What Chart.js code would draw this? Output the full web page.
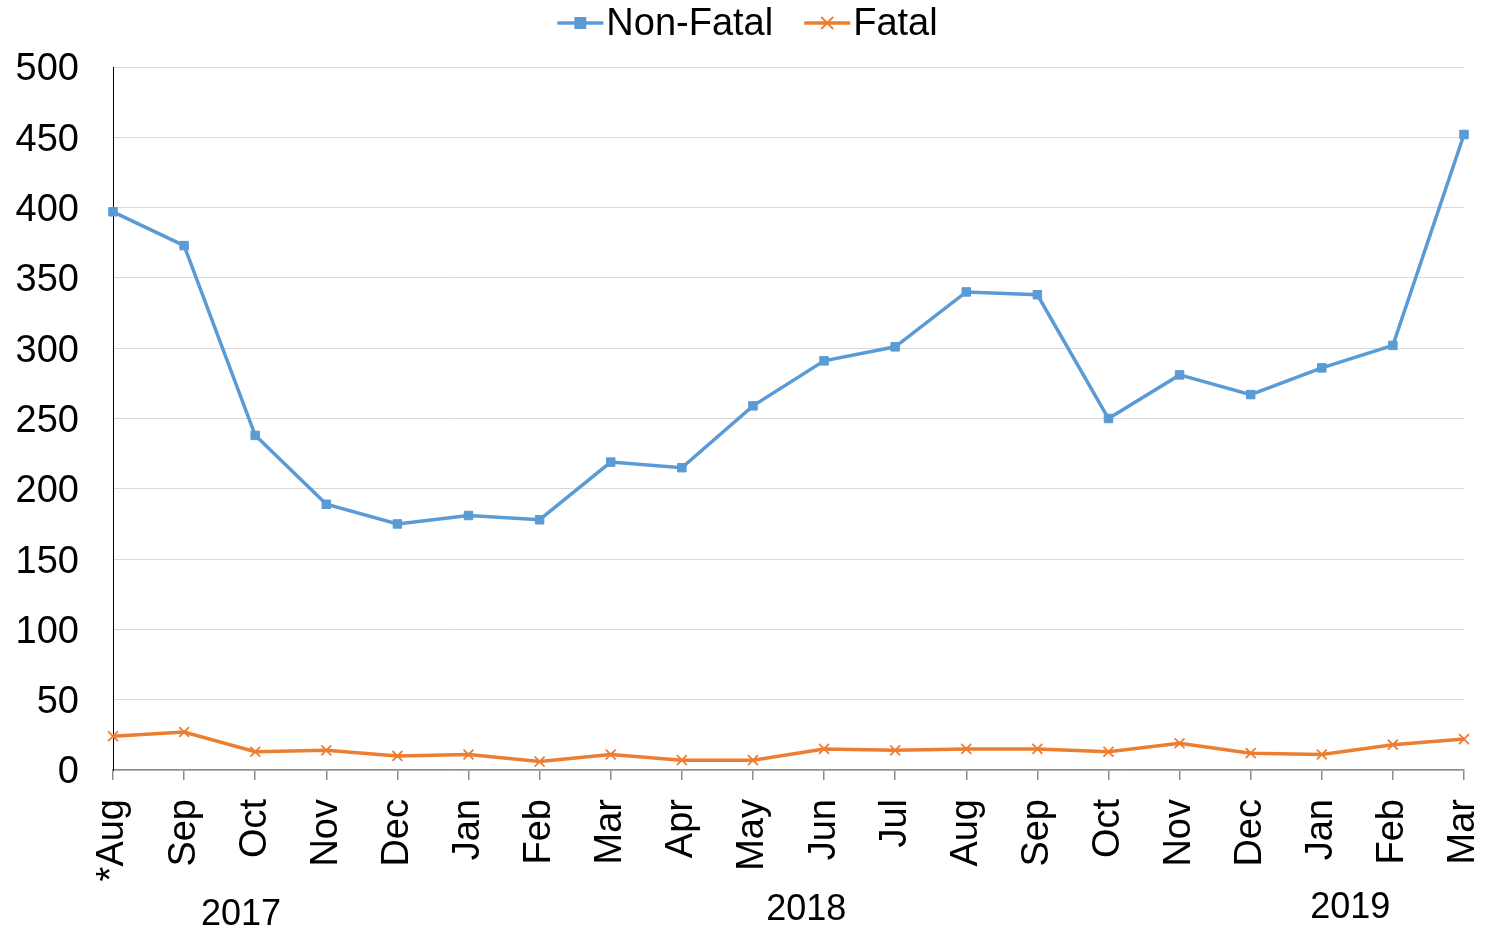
<!DOCTYPE html>
<html>
<head>
<meta charset="utf-8">
<script src="https://cdn.jsdelivr.net/npm/chart.js@4/dist/chart.umd.min.js"></script>
<style>
  html, body { margin: 0; padding: 0; background: #fff; }
  #wrap { width: 1491px; height: 927px; position: relative; }
</style>
</head>
<body>
<div id="wrap"><canvas id="c" width="1491" height="927"></canvas></div>
<script>
const categories = ['*Aug','Sep','Oct','Nov','Dec','Jan','Feb','Mar','Apr','May','Jun','Jul','Aug','Sep','Oct','Nov','Dec','Jan','Feb','Mar'];
const nonFatal = [397, 373, 238, 189, 175, 181, 178, 219, 215, 259, 291, 301, 340, 338, 250, 281, 267, 286, 302, 452];
const fatal = [24, 27, 13, 14, 10, 11, 6, 11, 7, 7, 15, 14, 15, 15, 13, 19, 12, 11, 18, 22];
const yearLabels = ['2017', '2018', '2019'];
const yTicks = [0, 50, 100, 150, 200, 250, 300, 350, 400, 450, 500];

const BLUE = '#5B9BD5';
const ORANGE = '#ED7D31';
const FONT = '"Liberation Sans", Arial, sans-serif';

const yearPlugin = {
  id: 'years',
  afterDraw(chart, args, opts) {
    const ctx = chart.ctx;
    const xs = chart.scales.x;
    ctx.save();
    ctx.fillStyle = '#000';
    ctx.font = '36px ' + FONT;
    ctx.textAlign = 'center';
    ctx.textBaseline = 'middle';
    opts.positions.forEach((p, i) => {
      const x = xs.getPixelForValue(p.at);
      ctx.fillText(yearLabels[i], x, p.y);
    });
    ctx.restore();
  }
};

const legendPlugin = {
  id: 'customLegend',
  afterDraw(chart) {
    const ctx = chart.ctx;
    ctx.save();
    ctx.font = '38px ' + FONT;
    ctx.textBaseline = 'middle';
    const items = chart.data.datasets.map(d => ({ text: d.label, color: d.borderColor, style: d.pointStyle }));
    const lineW = 46, gapText = 3, gapItem = 31;
    let total = 0;
    items.forEach((it, i) => {
      it.tw = ctx.measureText(it.text).width;
      total += lineW + gapText + it.tw + (i < items.length - 1 ? gapItem : 0);
    });
    let x = (chart.width - total) / 2 + 2;
    const y = 23;
    items.forEach(it => {
      ctx.strokeStyle = it.color;
      ctx.lineWidth = 3.5;
      ctx.beginPath();
      ctx.moveTo(x, y);
      ctx.lineTo(x + lineW, y);
      ctx.stroke();
      const cx = x + lineW / 2;
      if (it.style === 'rect') {
        ctx.fillStyle = it.color;
        ctx.fillRect(cx - 6, y - 6, 12, 12);
      } else {
        ctx.lineWidth = 1.8;
        ctx.beginPath();
        ctx.moveTo(cx - 6, y - 6); ctx.lineTo(cx + 6, y + 6);
        ctx.moveTo(cx + 6, y - 6); ctx.lineTo(cx - 6, y + 6);
        ctx.stroke();
      }
      ctx.fillStyle = '#000';
      ctx.textAlign = 'left';
      ctx.fillText(it.text, x + lineW + gapText, y + 2);
      x += lineW + gapText + it.tw + gapItem;
    });
    ctx.restore();
  }
};

new Chart(document.getElementById('c'), {
  type: 'line',
  data: {
    labels: categories,
    datasets: [
      {
        label: 'Non-Fatal',
        data: nonFatal,
        borderColor: BLUE,
        backgroundColor: BLUE,
        borderWidth: 3.5,
        pointStyle: 'rect',
        pointRadius: 6,
        pointBorderWidth: 1,
        tension: 0
      },
      {
        label: 'Fatal',
        data: fatal,
        borderColor: ORANGE,
        backgroundColor: ORANGE,
        borderWidth: 3.5,
        pointStyle: 'crossRot',
        pointRadius: 7,
        pointBorderWidth: 1.8,
        tension: 0
      }
    ]
  },
  options: {
    responsive: false,
    animation: false,
    devicePixelRatio: 1,
    layout: { padding: { top: 67, right: 27, bottom: 0, left: 0 } },
    plugins: {
      legend: { display: false },
      tooltip: { enabled: false },
      years: { positions: [ { at: 1.8, y: 915 }, { at: 9.75, y: 910 }, { at: 17.4, y: 908 } ] }
    },
    scales: {
      x: {
        offset: false,
        grid: { display: true, drawOnChartArea: false, drawTicks: true, tickLength: 10, color: '#8c8c8c', lineWidth: 1.5 },
        border: { display: true, color: '#8c8c8c', width: 1.5 },
        ticks: {
          color: '#000',
          font: { family: FONT, size: 38 },
          minRotation: 90,
          maxRotation: 90,
          autoSkip: false,
          padding: 19
        },
        afterFit(s) { s.height = 927 - 770; s.paddingLeft = 0; s.paddingRight = 0; }
      },
      y: {
        min: 0,
        max: 500,
        afterBuildTicks(s) { s.ticks = yTicks.map(v => ({ value: v })); },
        grid: { color: '#d9d9d9', lineWidth: 1, drawTicks: false },
        border: { display: true, color: '#000', width: 1 },
        ticks: {
          color: '#000',
          font: { family: FONT, size: 38 },
          padding: 34,
          labelOffset: 3
        },
        afterFit(s) { s.width = 113; s.paddingTop = 0; s.paddingBottom = 0; }
      }
    }
  },
  plugins: [yearPlugin, legendPlugin]
});
</script>
</body>
</html>
